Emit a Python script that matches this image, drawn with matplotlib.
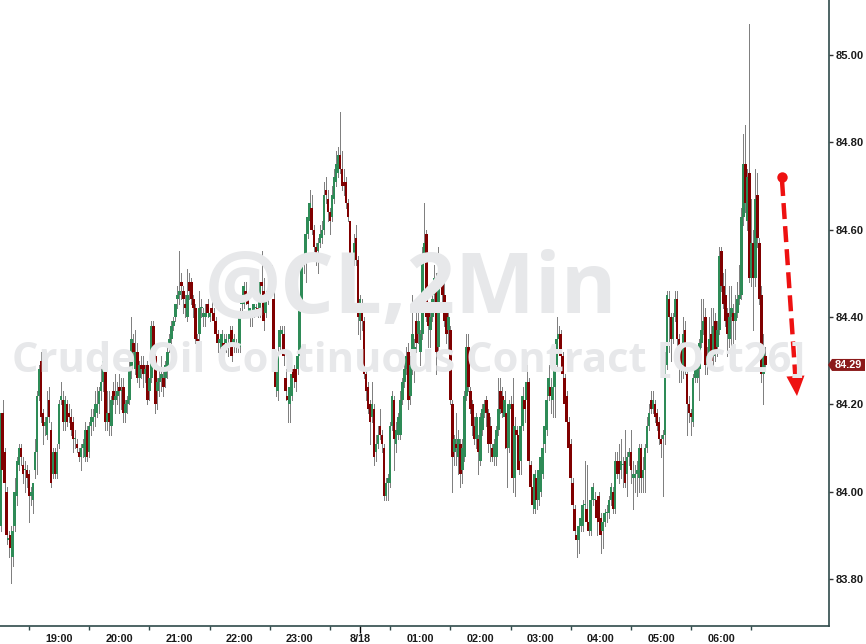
import matplotlib
matplotlib.use("Agg")
import matplotlib.pyplot as plt
import matplotlib.transforms as mtransforms
from matplotlib.patches import Polygon
import numpy as np

# ---- data: @CL 2-minute bars, prices in cents, first bar 18:00 ----
opens = [
 8394,8392,8418,8409,8400,8389,8390,8385,8392,8399, 8406,8410,8406,8405,8405,8404,8399,8398,8405,8409,
 8422,8430,8418,8415,8413,8421,8414,8404,8409,8404, 8411,8421,8421,8416,8420,8418,8417,8416,8412,8411,
 8409,8408,8410,8408,8414,8409,8415,8416,8417,8418, 8420,8423,8425,8429,8416,8418,8415,8423,8421,8422,
 8424,8423,8424,8418,8420,8421,8428,8434,8428,8432, 8426,8429,8429,8427,8429,8423,8426,8438,8431,8423,
 8425,8426,8426,8426,8428,8434,8435,8438,8440,8444, 8445,8448,8446,8443,8440,8448,8448,8444,8442,8435,
 8436,8442,8440,8440,8443,8440,8442,8441,8439,8436, 8434,8433,8434,8434,8433,8435,8437,8434,8434,8433,
 8433,8443,8443,8446,8444,8440,8441,8441,8442,8442, 8442,8448,8446,8441,8444,8446,8449,8444,8430,8423,
 8433,8436,8436,8426,8422,8420,8422,8428,8428,8428, 8431,8443,8452,8454,8459,8462,8465,8460,8456,8455,
 8457,8458,8460,8469,8467,8464,8463,8467,8471,8473, 8477,8474,8471,8471,8466,8462,8449,8453,8458,8453,
 8439,8443,8439,8427,8424,8420,8417,8419,8409,8411, 8415,8413,8410,8399,8402,8402,8415,8421,8411,8413,
 8413,8421,8425,8428,8432,8422,8428,8432,8439,8436, 8432,8436,8454,8459,8442,8437,8440,8445,8448,8433,
 8450,8448,8445,8442,8437,8437,8420,8409,8411,8408, 8411,8405,8408,8422,8433,8423,8420,8415,8412,8412,
 8407,8414,8418,8421,8418,8415,8410,8408,8408,8414, 8423,8422,8417,8418,8410,8419,8420,8403,8414,8413,
 8407,8415,8421,8421,8425,8406,8401,8396,8403,8398, 8400,8404,8411,8414,8422,8424,8421,8424,8429,8435,
 8436,8431,8426,8422,8416,8411,8402,8396,8390,8389, 8392,8392,8397,8396,8393,8391,8398,8398,8398,8399,
 8394,8391,8393,8395,8395,8398,8400,8396,8407,8407, 8405,8406,8407,8404,8408,8409,8403,8403,8404,8403,
 8410,8403,8405,8410,8415,8421,8419,8420,8418,8416, 8412,8412,8413,8429,8444,8440,8435,8440,8444,8435,
 8433,8429,8437,8427,8420,8418,8416,8426,8426,8428, 8434,8437,8440,8429,8431,8436,8431,8439,8433,8437,
 8455,8447,8445,8441,8435,8440,8441,8439,8441,8444, 8445,8463,8475,8462,8473,8449,8457,8449,8468,8457,
 8445,8427,8431]

highs = [
 8396,8418,8421,8410,8401,8391,8392,8392,8403,8408, 8411,8411,8408,8407,8406,8405,8401,8402,8412,8423,
 8429,8432,8419,8417,8423,8424,8416,8410,8410,8411, 8421,8425,8423,8422,8421,8420,8419,8417,8414,8412,
 8410,8411,8412,8416,8415,8416,8419,8419,8423,8424, 8424,8429,8432,8431,8423,8423,8422,8425,8427,8425,
 8427,8426,8426,8421,8422,8432,8440,8436,8437,8434, 8430,8431,8431,8429,8430,8426,8439,8439,8432,8426,
 8428,8431,8428,8430,8434,8436,8439,8440,8443,8447, 8455,8450,8447,8445,8451,8450,8449,8445,8443,8436,
 8446,8444,8442,8443,8444,8442,8444,8442,8440,8437, 8436,8437,8436,8436,8435,8438,8438,8436,8435,8435,
 8442,8446,8448,8448,8445,8442,8443,8443,8443,8443, 8448,8455,8449,8445,8447,8451,8452,8446,8431,8433,
 8438,8438,8438,8428,8423,8425,8428,8429,8429,8432, 8444,8453,8456,8460,8466,8469,8468,8461,8457,8458,
 8461,8462,8471,8472,8469,8465,8470,8474,8478,8479, 8487,8478,8474,8472,8467,8462,8454,8459,8461,8454,
 8445,8444,8440,8428,8425,8421,8425,8420,8413,8415, 8419,8414,8411,8403,8404,8416,8423,8422,8416,8418,
 8423,8426,8430,8433,8434,8431,8445,8435,8441,8441, 8437,8456,8466,8460,8443,8442,8446,8452,8450,8456,
 8452,8450,8449,8443,8441,8438,8421,8413,8418,8414, 8412,8412,8423,8436,8436,8424,8421,8417,8418,8413,
 8418,8420,8421,8422,8419,8417,8411,8412,8415,8426, 8426,8424,8423,8420,8421,8422,8426,8417,8415,8414,
 8416,8424,8424,8429,8426,8407,8402,8405,8405,8406, 8409,8411,8416,8422,8429,8426,8425,8429,8440,8438,
 8437,8432,8427,8423,8417,8412,8403,8397,8391,8393, 8395,8398,8407,8406,8394,8399,8402,8400,8399,8400,
 8395,8394,8396,8397,8399,8402,8401,8409,8409,8411, 8412,8408,8414,8409,8410,8414,8407,8406,8407,8411,
 8411,8408,8411,8417,8420,8423,8423,8421,8419,8417, 8413,8414,8432,8446,8446,8441,8441,8446,8446,8436,
 8434,8440,8439,8428,8422,8419,8427,8430,8432,8435, 8444,8444,8442,8433,8440,8442,8442,8441,8439,8456,
 8456,8450,8451,8442,8447,8447,8443,8445,8448,8452, 8465,8482,8484,8474,8507,8467,8460,8474,8473,8458,
 8447,8436,8433]

lows = [
 8377,8391,8404,8400,8388,8385,8379,8383,8391,8397, 8405,8406,8402,8400,8401,8393,8397,8395,8403,8404,
 8421,8416,8411,8413,8412,8416,8401,8403,8403,8403, 8410,8420,8414,8414,8415,8416,8413,8409,8410,8409,
 8407,8405,8408,8407,8407,8408,8413,8414,8415,8417, 8418,8421,8423,8414,8414,8413,8413,8420,8418,8420,
 8418,8419,8416,8416,8418,8420,8426,8430,8427,8425, 8424,8426,8424,8425,8420,8421,8425,8429,8418,8419,
 8422,8423,8422,8424,8426,8432,8434,8437,8439,8442, 8443,8444,8441,8440,8439,8444,8443,8440,8434,8431,
 8434,8440,8438,8438,8440,8439,8440,8438,8435,8432, 8432,8430,8430,8432,8431,8434,8430,8432,8432,8432,
 8432,8441,8442,8443,8441,8438,8438,8440,8441,8440, 8440,8446,8437,8440,8443,8445,8446,8430,8422,8421,
 8432,8434,8429,8421,8416,8416,8421,8424,8423,8427, 8430,8442,8450,8448,8458,8461,8459,8455,8452,8450,
 8456,8457,8459,8466,8462,8459,8462,8466,8470,8472, 8473,8469,8468,8465,8462,8449,8448,8452,8452,8436,
 8435,8437,8426,8421,8418,8411,8416,8406,8407,8410, 8412,8409,8398,8398,8398,8401,8414,8405,8409,8412,
 8412,8420,8424,8427,8419,8420,8427,8425,8432,8434, 8429,8435,8453,8439,8433,8433,8439,8443,8427,8432,
 8447,8443,8438,8434,8432,8420,8400,8406,8406,8404, 8401,8402,8407,8421,8423,8418,8413,8411,8410,8404,
 8406,8413,8417,8415,8409,8407,8407,8406,8406,8413, 8418,8417,8410,8401,8409,8418,8400,8399,8411,8404,
 8404,8414,8416,8419,8406,8400,8395,8395,8396,8397, 8399,8403,8409,8413,8421,8418,8417,8417,8428,8434,
 8430,8426,8419,8415,8409,8402,8396,8390,8385,8386, 8391,8391,8395,8392,8390,8390,8397,8396,8390,8392,
 8386,8387,8392,8393,8394,8397,8395,8395,8403,8402, 8403,8401,8401,8399,8406,8402,8396,8400,8399,8400,
 8400,8400,8400,8409,8414,8418,8418,8416,8414,8411, 8408,8399,8411,8428,8432,8430,8434,8439,8433,8425,
 8425,8426,8427,8413,8416,8413,8415,8425,8425,8421, 8433,8436,8427,8427,8430,8428,8429,8430,8431,8436,
 8446,8442,8438,8431,8433,8433,8433,8435,8440,8443, 8444,8461,8464,8460,8448,8447,8437,8447,8456,8443,
 8425,8420,8428]

closes = [
 8392,8418,8405,8402,8390,8389,8387,8391,8400,8407, 8410,8408,8404,8405,8403,8399,8400,8402,8409,8422,
 8428,8417,8415,8416,8417,8417,8402,8409,8404,8409, 8420,8422,8416,8421,8416,8417,8414,8412,8412,8410,
 8408,8410,8411,8414,8408,8415,8417,8417,8420,8420, 8423,8425,8430,8416,8418,8416,8421,8421,8422,8423,
 8423,8423,8418,8420,8421,8428,8435,8432,8432,8426, 8429,8428,8427,8428,8421,8426,8438,8430,8420,8425,
 8426,8427,8424,8429,8432,8435,8438,8439,8443,8445, 8446,8447,8444,8442,8445,8446,8444,8442,8435,8434,
 8442,8442,8441,8441,8441,8441,8441,8439,8436,8434, 8435,8436,8433,8435,8433,8436,8431,8435,8433,8434,
 8440,8443,8447,8444,8443,8442,8440,8443,8442,8441, 8448,8447,8439,8444,8446,8449,8447,8431,8424,8431,
 8437,8437,8431,8423,8421,8424,8427,8426,8425,8431, 8443,8452,8454,8459,8463,8466,8460,8456,8454,8457,
 8459,8460,8468,8468,8464,8462,8468,8472,8475,8477, 8474,8470,8470,8466,8463,8450,8453,8457,8453,8440,
 8444,8439,8427,8423,8419,8416,8420,8408,8411,8413, 8413,8411,8399,8402,8403,8415,8422,8412,8414,8417,
 8421,8425,8428,8431,8421,8429,8436,8433,8434,8439, 8436,8454,8457,8440,8438,8440,8444,8449,8432,8450,
 8449,8445,8439,8436,8440,8421,8408,8412,8410,8412, 8404,8410,8422,8433,8424,8419,8415,8412,8417,8409,
 8417,8419,8420,8418,8411,8411,8408,8411,8414,8419, 8419,8418,8421,8410,8420,8420,8403,8415,8413,8405,
 8415,8422,8419,8425,8407,8401,8397,8404,8398,8405, 8408,8410,8415,8421,8426,8422,8424,8428,8435,8436,
 8431,8427,8420,8416,8410,8403,8397,8391,8389,8392, 8394,8397,8397,8393,8391,8398,8401,8398,8394,8393,
 8390,8393,8395,8395,8398,8401,8396,8407,8404,8404, 8407,8406,8402,8408,8409,8405,8404,8404,8405,8410,
 8403,8405,8410,8415,8418,8419,8421,8417,8415,8412, 8411,8413,8429,8445,8440,8435,8440,8444,8435,8431,
 8429,8436,8428,8420,8418,8417,8426,8428,8428,8434, 8437,8439,8429,8431,8435,8430,8438,8432,8437,8454,
 8447,8443,8439,8436,8440,8442,8439,8441,8444,8445, 8463,8475,8466,8472,8449,8457,8449,8467,8458,8444,
 8427,8432,8429]

x_labels = ["19:00", "20:00", "21:00", "22:00", "23:00", "8/18",
            "01:00", "02:00", "03:00", "04:00", "05:00", "06:00"]
y_ticks = [83.80, 84.00, 84.20, 84.40, 84.60, 84.80, 85.00]
last_price = 84.29
watermark_1 = "@CL,2Min"
watermark_2 = "Crude Oil Continuous Contract [Oct26]"

# ---- figure ----
W, H = 866, 644
fig = plt.figure(figsize=(W / 100, H / 100), dpi=100)
fig.patch.set_facecolor("white")
ax = fig.add_axes([0, 18 / H, 829 / W, 626 / H])
ax.set_facecolor("none")

o = np.array(opens) / 100.0
h = np.array(highs) / 100.0
l = np.array(lows) / 100.0
c = np.array(closes) / 100.0
idx = np.arange(len(o))

UP = "#2e8b57"
DN = "#800000"
WICK = "#808080"
AXC = "#2f4a4a"

ax.vlines(idx, l, h, color=WICK, linewidth=0.6, antialiased=False, zorder=2)
bottoms = np.minimum(o, c)
heights = np.maximum(np.abs(c - o), 0.0025)
cols = [UP if cc >= oo else DN for oo, cc in zip(o, c)]
ax.bar(idx, heights, bottom=bottoms, width=1.35, color=cols, linewidth=0,
       antialiased=False, zorder=3)

ax.set_xlim(0.6, 413.7)
ax.set_ylim(83.692, 85.126)

# watermark
fig.text(205 / W, 1 - 313 / H, watermark_1, fontsize=61, fontweight="bold",
         family="Open Sans", color="#e7e8ea", ha="left", va="baseline", zorder=0)
fig.text(12 / W, 1 - 372 / H, watermark_2, fontsize=30, fontweight="bold",
         family="Open Sans", color="#e7e8ea", ha="left", va="baseline", zorder=0)

# spines
for s in ["top", "left"]:
    ax.spines[s].set_visible(False)
for s in ["right", "bottom"]:
    ax.spines[s].set_color(AXC)
    ax.spines[s].set_linewidth(1.2)

# y axis on right
ax.yaxis.tick_right()
ax.set_yticks(y_ticks)
ax.set_yticklabels([f"{v:.2f}" for v in y_ticks])
ax.tick_params(axis="y", which="major", length=3, width=1, color="#333333",
               pad=1.5, labelsize=8, labelcolor="#1a1a1a")
for t in ax.get_yticklabels():
    t.set_fontweight("bold")
    t.set_family("Liberation Sans")

# x axis
hour_pos = [30 * (k + 1) for k in range(len(x_labels))]
ax.set_xticks(hour_pos)
ax.set_xticklabels(x_labels)
ax.set_xticks([15 + 30 * k for k in range(13)], minor=True)
ax.tick_params(axis="x", which="major", length=0, pad=6, labelsize=7.8,
               labelcolor="#1a1a1a")
ax.tick_params(axis="x", which="minor", length=3, width=1, color=AXC)
for t in ax.get_xticklabels():
    t.set_fontweight("bold")
    t.set_family("Liberation Sans")
for tk, lab in zip(ax.xaxis.get_major_ticks(), x_labels):
    if lab == "8/18":
        tk.tick1line.set_markersize(5)
        tk.tick1line.set_markeredgewidth(1)
        tk.tick1line.set_color(AXC)

# last price tag
bt = mtransforms.blended_transform_factory(fig.transFigure, ax.transData)
hh = 6.0 / 436.5
x0, x1, x2 = 828 / W, 832 / W, 865 / W
tag = Polygon([[x0, last_price], [x1, last_price + hh], [x2, last_price + hh],
               [x2, last_price - hh], [x1, last_price - hh]], closed=True,
              transform=bt, facecolor="#8b1a1a", edgecolor="none", clip_on=False, zorder=5)
fig.patches.append(tag)
fig.text(848 / W, last_price, f"{last_price:.2f}", transform=bt, color="white",
         fontsize=7.8, fontweight="bold", family="Liberation Sans",
         ha="center", va="center", zorder=6)

# red dashed arrow annotation (pixel -> data helpers)
def px_x(px):
    return 180 + (px - 360) / 2.007

def px_y(py):
    return 85.0 - (py - 55) / 436.5

RED = "#ee1111"
ax.plot([px_x(782), px_x(795.5)], [px_y(180), px_y(378)], color=RED, lw=3.2,
        ls=(0, (3.6, 1.6)), solid_capstyle="butt", zorder=6, clip_on=False)
head = Polygon([[px_x(797), px_y(396)], [px_x(786.5), px_y(376.5)],
                [px_x(804.5), px_y(375.5)]], closed=True, facecolor=RED,
               edgecolor="none", zorder=7)
ax.add_patch(head)
ax.plot([px_x(782)], [px_y(177)], marker="o", markersize=7.5, color=RED,
        markeredgewidth=0, zorder=7)

fig.savefig("out.png", dpi=100, facecolor="white")
